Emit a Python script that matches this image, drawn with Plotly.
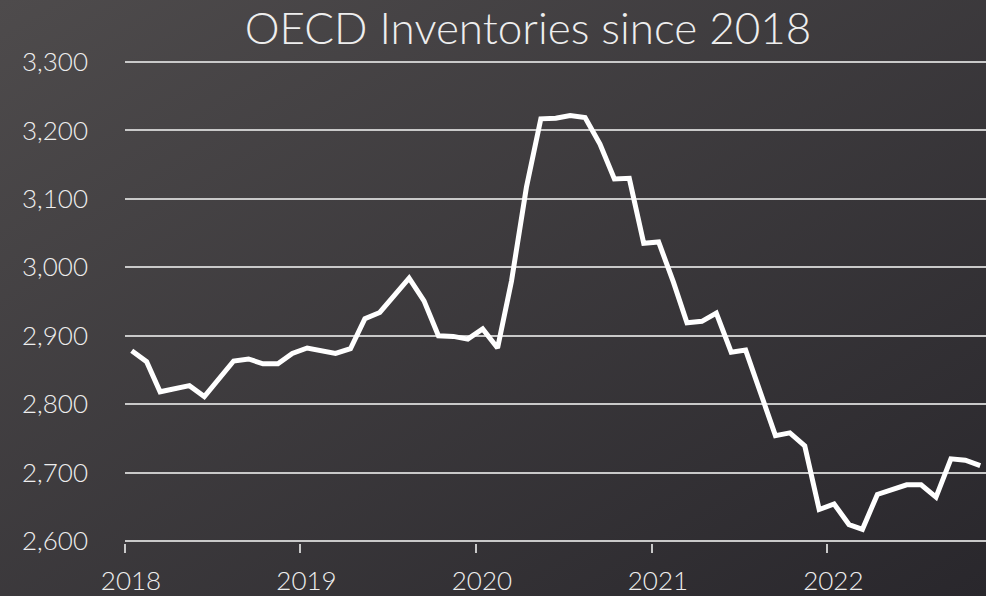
import base64
import pandas as pd
import plotly.graph_objects as go

# ---- data ----
start_month = "2018-01-01"
n_months = 59
inventories = [
    2878, 2862, 2818, 2822, 2827, 2811, 2837, 2863, 2866, 2859, 2859, 2874,
    2882, 2878, 2874, 2881, 2925, 2934, 2958, 2984, 2951, 2900, 2899, 2895,
    2910, 2882, 2980, 3117, 3217, 3218, 3222, 3219, 3180, 3129, 3130, 3035,
    3037, 2978, 2919, 2921, 2933, 2876, 2879, 2815, 2754, 2758, 2739, 2646,
    2654, 2624, 2617, 2668, 2674, 2682, 2682, 2664, 2720, 2718, 2710,
]
year_ticks = ["2018-01-01", "2019-01-01", "2020-01-01", "2021-01-01", "2022-01-01"]
year_labels = ["2018", "2019", "2020", "2021", "2022"]
y_ticks = [2600, 2700, 2800, 2900, 3000, 3100, 3200, 3300]

dates = pd.date_range(start_month, periods=n_months, freq="MS") + pd.Timedelta(days=14)

W, H = 986, 596
ML, MR, MT, MB = 125, 0, 60, 53
FONT = "Lato"
TXT = "#eeeeee"
GRID = "#c9c9c9"

svg = f'''<svg xmlns="http://www.w3.org/2000/svg" width="{W}" height="{H}" viewBox="0 0 {W} {H}" preserveAspectRatio="none">
<defs><linearGradient id="g" x1="0" y1="0" x2="1" y2="1">
<stop offset="0" stop-color="#4e4b4c"/><stop offset="1" stop-color="#29272c"/>
</linearGradient></defs>
<rect width="{W}" height="{H}" fill="url(#g)"/></svg>'''
bg_src = "data:image/svg+xml;base64," + base64.b64encode(svg.encode()).decode()

pw, ph = W - ML - MR, H - MT - MB

fig = go.Figure()
fig.add_trace(go.Scatter(
    x=dates, y=inventories, mode="lines",
    line=dict(color="#ffffff", width=5),
    hoverinfo="skip", showlegend=False,
))

fig.update_layout(
    width=W, height=H,
    margin=dict(l=ML, r=MR, t=MT, b=MB, pad=0, autoexpand=False),
    paper_bgcolor="#3b393c",
    plot_bgcolor="rgba(0,0,0,0)",
    font=dict(family=FONT, color=TXT, size=26, weight=300),
    title=dict(
        text="OECD Inventories since 2018",
        x=528 / W, xanchor="center", xref="container",
        y=1 - 29 / H, yanchor="middle", yref="container",
        font=dict(family=FONT, size=44, color=TXT, weight=300),
        automargin=False,
    ),
    images=[dict(
        source=bg_src, xref="paper", yref="paper",
        x=-ML / pw, y=1 + MT / ph, sizex=W / pw, sizey=H / ph,
        xanchor="left", yanchor="top", sizing="stretch", layer="below",
    )],
    xaxis=dict(
        range=["2018-01-01", "2022-11-27"],
        tickmode="array", tickvals=year_ticks, ticktext=year_labels,
        ticks="outside", ticklen=9, tickwidth=1.5, tickcolor=GRID,
        showline=False, showgrid=False, zeroline=False,
        ticklabelstandoff=6, ticklabelshift=6, automargin=False,
        tickfont=dict(family=FONT, size=26, color=TXT, weight=300),
    ),
    yaxis=dict(
        range=[2597, 3303],
        tickmode="array", tickvals=y_ticks,
        tickformat=",d",
        showgrid=True, gridcolor=GRID, gridwidth=2,
        zeroline=False, showline=False,
        ticks="", ticklabelstandoff=36, automargin=False,
        tickfont=dict(family=FONT, size=26, color=TXT, weight=300),
    ),
)

fig.write_html("out.html")
